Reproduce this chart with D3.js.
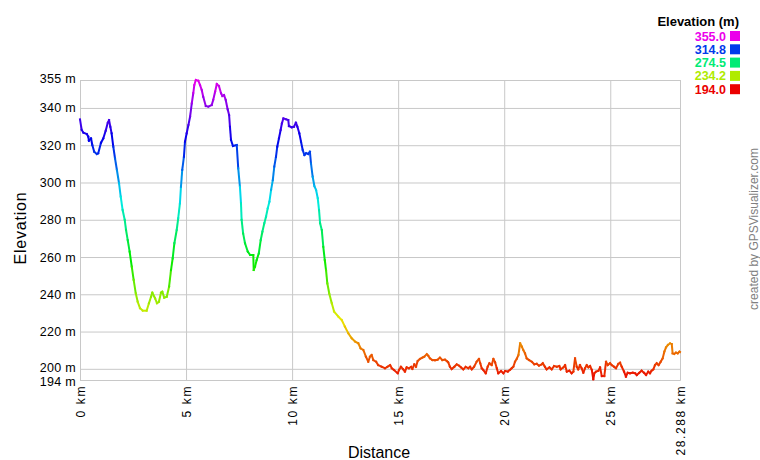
<!DOCTYPE html>
<html>
<head>
<meta charset="utf-8">
<script src="https://cdn.jsdelivr.net/npm/d3@7"></script>
<style>
  html, body { margin: 0; padding: 0; background: #fff; }
  svg { display: block; font-family: "Liberation Sans", Arial, sans-serif; }
</style>
</head>
<body>
<svg id="chart" width="760" height="460"></svg>
<script>
// ---- data (distance in km, elevation in m) ----
const distanceKm = [
  0.00,0.08,0.16,0.32,0.39,0.42,0.52,0.58,0.67,0.79,0.86,0.99,1.10,1.21,1.31,1.37,1.43,1.49,1.57,1.65,
  1.74,1.84,1.92,2.01,2.11,2.17,2.25,2.34,2.44,2.53,2.63,2.72,2.83,2.96,3.14,3.25,3.35,3.41,3.54,3.63,
  3.72,3.82,3.88,3.97,4.09,4.20,4.29,4.37,4.45,4.56,4.63,4.71,4.76,4.82,4.90,4.95,5.03,5.11,5.19,5.27,
  5.34,5.39,5.46,5.58,5.66,5.74,5.81,5.93,6.05,6.21,6.28,6.37,6.45,6.55,6.65,6.71,6.79,6.87,6.96,7.03,
  7.07,7.12,7.21,7.39,7.46,7.54,7.59,7.62,7.69,7.78,7.91,8.02,8.17,8.19,8.25,8.33,8.43,8.52,8.60,8.69,
  8.77,8.85,8.93,9.01,9.09,9.16,9.24,9.30,9.38,9.46,9.52,9.59,9.71,9.82,9.85,9.98,10.09,10.18,10.25,10.34,
  10.42,10.50,10.58,10.66,10.76,10.84,10.89,10.97,11.05,11.13,11.21,11.27,11.32,11.40,11.47,11.54,11.60,11.66,11.75,11.87,
  11.98,12.18,12.34,12.49,12.65,12.81,12.97,13.12,13.23,13.36,13.48,13.59,13.67,13.75,13.83,13.96,14.06,14.22,14.38,14.49,
  14.62,14.70,14.80,14.98,15.04,15.13,15.24,15.32,15.40,15.51,15.61,15.67,15.76,15.84,15.92,16.03,16.14,16.23,16.35,16.42,
  16.50,16.61,16.74,16.86,16.97,17.08,17.21,17.29,17.36,17.44,17.52,17.65,17.76,17.87,17.96,18.07,18.18,18.31,18.39,18.47,
  18.58,18.70,18.81,18.87,18.94,19.01,19.13,19.22,19.30,19.41,19.49,19.57,19.65,19.72,19.85,19.96,20.04,20.17,20.27,20.35,
  20.43,20.51,20.59,20.67,20.75,20.83,20.90,20.98,21.06,21.17,21.30,21.42,21.53,21.64,21.77,21.82,21.92,22.00,22.13,22.24,
  22.35,22.48,22.60,22.66,22.79,22.87,22.95,23.07,23.18,23.26,23.34,23.42,23.49,23.57,23.65,23.73,23.81,23.89,23.97,24.05,
  24.13,24.20,24.25,24.33,24.44,24.52,24.60,24.72,24.80,24.88,24.99,25.07,25.18,25.27,25.38,25.46,25.54,25.65,25.74,25.82,
  25.93,26.06,26.17,26.25,26.37,26.48,26.59,26.69,26.79,26.87,26.95,27.03,27.11,27.19,27.28,27.38,27.47,27.55,27.63,27.72,
  27.82,27.90,27.94,28.02,28.10,28.18,28.26,28.288
];
const elevationM = [
  333.9,328.2,326.7,326.0,324.6,322.4,323.7,320.1,316.5,315.3,315.7,321.3,323.7,327.8,332.1,333.5,329.9,326.4,319.2,313.0,
  306.7,299.6,292.4,285.2,279.9,274.5,269.1,262.9,254.8,247.7,240.5,236.0,232.5,231.2,231.2,235.2,238.7,240.9,237.8,235.2,
  236.0,240.9,241.4,238.2,238.7,244.1,253.0,259.3,267.4,274.5,280.8,288.8,297.7,306.7,313.8,321.9,326.4,330.8,335.3,342.5,
  347.9,352.3,355.0,354.6,352.3,349.6,346.0,341.0,340.7,341.6,344.3,348.7,352.9,351.8,347.9,346.4,346.9,344.3,339.3,336.2,
  329.9,322.8,319.6,320.1,307.6,297.7,288.8,279.9,272.7,267.4,262.9,261.1,261.1,253.0,254.8,258.4,262.0,269.1,273.6,278.1,
  281.6,286.1,289.7,296.0,301.3,308.5,313.8,319.2,323.7,328.2,331.8,334.4,333.9,333.5,330.3,329.6,329.9,332.1,329.9,326.4,
  321.9,317.4,314.7,315.7,315.3,316.5,310.3,303.1,298.1,296.0,291.5,285.2,278.1,274.5,265.5,258.4,253.0,245.9,240.5,235.2,
  230.7,228.0,226.2,222.6,219.1,216.4,214.6,213.7,211.0,210.1,206.5,203.8,206.5,207.4,204.7,203.8,202.0,201.1,200.3,201.1,
  202.0,200.3,199.4,197.6,199.4,201.1,199.7,198.5,200.8,200.3,201.1,199.9,202.4,201.1,204.2,205.3,206.0,206.5,207.8,207.0,
  205.6,204.7,204.6,204.9,206.0,204.7,204.9,204.2,203.5,201.1,199.9,201.1,202.4,201.7,200.8,199.7,201.0,200.3,201.1,199.7,
  201.1,203.8,205.3,203.0,200.3,199.4,197.6,201.1,203.0,202.0,205.3,203.5,200.3,197.6,198.8,197.6,198.8,198.5,199.4,200.3,
  201.1,203.8,205.3,207.4,213.7,211.9,210.1,208.3,205.6,204.7,203.8,202.4,202.7,201.7,202.4,203.0,201.1,199.7,200.8,199.7,
  201.5,201.1,201.5,199.7,200.8,202.0,198.5,199.0,197.6,198.5,205.6,201.1,199.7,202.0,200.3,197.9,200.3,202.0,200.8,201.5,
  199.4,194.4,197.6,198.5,199.0,200.8,196.1,196.1,203.8,202.0,203.0,202.0,201.1,200.3,202.6,203.3,201.1,198.5,195.8,197.9,
  197.6,197.9,197.6,196.7,197.9,199.0,197.9,196.7,198.5,197.6,199.0,199.7,202.0,203.0,202.0,203.8,205.6,209.2,211.5,212.8,
  213.7,213.3,208.3,208.0,208.7,208.3,209.2,209.0
];
const yTickValues = [355, 340, 320, 300, 280, 260, 240, 220, 200, 194];
const xTickValues = [0, 5, 10, 15, 20, 25, 28.288];
const legendValues = [355.0, 314.8, 274.5, 234.2, 194.0];

// ---- layout ----
const svg = d3.select("#chart");
const plotLeft = 80, plotRight = 680, plotTop = 80, plotBottom = 380;
const minE = 194, maxE = 355, totalKm = 28.288;

const x = d3.scaleLinear().domain([0, totalKm]).range([plotLeft, plotRight]);
const y = d3.scaleLinear().domain([minE, maxE]).range([plotBottom, plotTop]);
const hue = d3.scaleLinear().domain([minE, maxE]).range([0, 300]);
const colorOf = v => d3.hsl(hue(v), 1, 0.46).formatHex();

const gridColor = "#c8c8c8";
const fontFam = "'Liberation Sans', Arial, sans-serif";

// y axis with grid
const yAxis = svg.append("g")
  .attr("transform", `translate(${plotLeft},0)`)
  .call(d3.axisLeft(y).tickValues(yTickValues).tickSize(-(plotRight - plotLeft)).tickPadding(4)
        .tickFormat(d => d + " m"));
yAxis.select(".domain").attr("stroke", gridColor);
yAxis.selectAll(".tick line").attr("stroke", gridColor);
yAxis.selectAll(".tick text").attr("fill", "#000").style("font-size", "12.5px")
  .style("letter-spacing", "0.3px")
  .attr("dy", d => d === 355 ? "0.2em" : d === 200 ? "0.22em" : d === 194 ? "0.45em" : "0.32em")
  .style("font-family", fontFam);

// x axis with grid
const xAxis = svg.append("g")
  .attr("transform", `translate(0,${plotBottom})`)
  .call(d3.axisBottom(x).tickValues(xTickValues).tickSize(-(plotBottom - plotTop))
        .tickFormat(d => d + " km"));
xAxis.select(".domain").attr("stroke", gridColor);
xAxis.selectAll(".tick line").attr("stroke", gridColor);
xAxis.selectAll(".tick text")
  .attr("fill", "#000")
  .attr("y", 0).attr("x", -5).attr("dy", "0.35em")
  .attr("transform", "rotate(-90)")
  .style("text-anchor", "end")
  .style("font-size", "12px")
  .style("letter-spacing", "1.6px")
  .style("font-family", fontFam);

// coloured elevation line, one segment per step
const n = Math.min(distanceKm.length, elevationM.length);
const segs = d3.range(n - 1).map(i => ({
  x1: distanceKm[i], y1: elevationM[i], x2: distanceKm[i + 1], y2: elevationM[i + 1]
}));
svg.append("g").selectAll("line").data(segs).join("line")
  .attr("x1", d => x(d.x1)).attr("y1", d => y(d.y1))
  .attr("x2", d => x(d.x2)).attr("y2", d => y(d.y2))
  .attr("stroke", d => colorOf((d.y1 + d.y2) / 2))
  .attr("stroke-width", 2)
  .attr("stroke-linecap", "square");

// axis titles
svg.append("text").attr("x", 379).attr("y", 458).attr("text-anchor", "middle")
  .style("font-size", "16px").text("Distance");
svg.append("text").attr("transform", "translate(26,228) rotate(-90)").attr("text-anchor", "middle")
  .style("font-size", "16px").style("letter-spacing", "0.8px").text("Elevation");

// legend
svg.append("text").attr("x", 739).attr("y", 26).attr("text-anchor", "end")
  .style("font-size", "13px").style("font-weight", "bold").text("Elevation (m)");
const leg = svg.append("g").selectAll("g").data(legendValues).join("g")
  .attr("transform", (d, i) => `translate(0,${40.5 + i * 13.3})`);
leg.append("text").attr("x", 726).attr("y", 0).attr("text-anchor", "end")
  .style("font-size", "12.5px").style("font-weight", "bold")
  .attr("fill", d => colorOf(d)).text(d => d.toFixed(1));
leg.append("rect").attr("x", 730).attr("y", -9.5).attr("width", 10).attr("height", 10)
  .attr("fill", d => colorOf(d));

// credit
svg.append("text").attr("transform", "translate(758,229) rotate(-90)").attr("text-anchor", "middle")
  .style("font-size", "12px").attr("fill", "#808080").text("created by GPSVisualizer.com");
</script>
</body>
</html>
